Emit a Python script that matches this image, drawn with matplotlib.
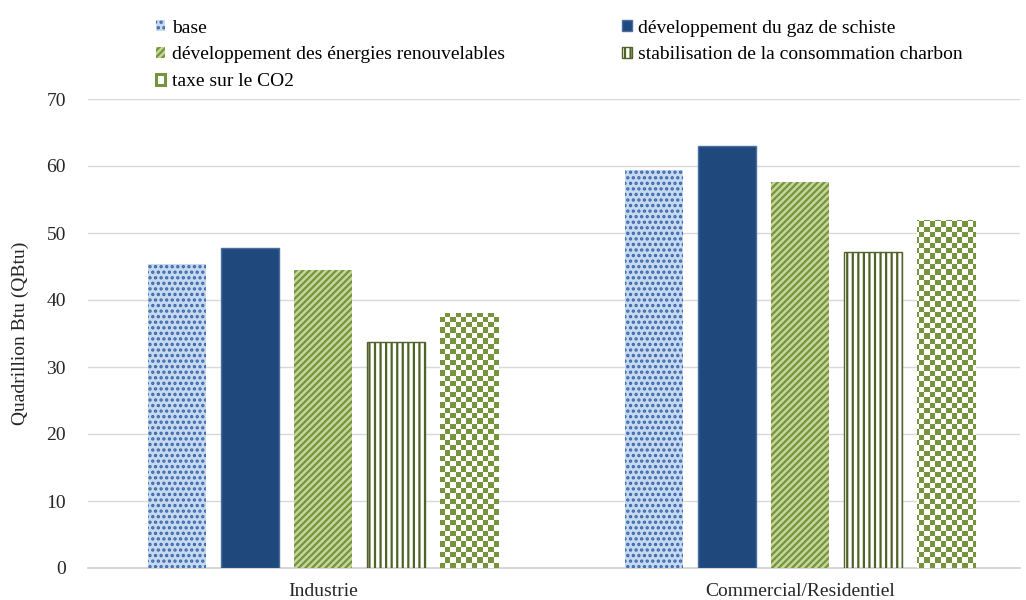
import numpy as np
import matplotlib as mpl
import matplotlib.pyplot as plt
from matplotlib.colors import ListedColormap
from matplotlib.patches import Patch

# data
categories = ['Industrie', 'Commercial/Residentiel']
scenarios = ['base',
             'développement du gaz de schiste',
             'développement des énergies renouvelables',
             'stabilisation de la consommation charbon',
             'taxe sur le CO2']
base = [45.4, 59.4]
gaz_schiste = [47.7, 63.0]
renouvelables = [44.5, 57.6]
charbon = [33.8, 47.2]
taxe_co2 = [38.1, 51.9]
yticks = [0, 10, 20, 30, 40, 50, 60, 70]

plt.rcParams['font.family'] = ['Liberation Serif', 'DejaVu Serif']
plt.rcParams['font.size'] = 14
plt.rcParams['hatch.linewidth'] = 1.6

fig = plt.figure(figsize=(10.26, 6), dpi=100)
ax = fig.add_axes([88 / 1026, 32 / 600, 932 / 1026, 469 / 600])

x = np.arange(len(categories))
step = 0.1532
width = 0.1217

# (values, face, hatch colour, hatch)
styles = [
    (base, '#c6d9f1', '#3a68a8', '...'),
    (gaz_schiste, '#1f497d', '#4a6e9e', None),
    (renouvelables, '#c3d69b', '#77933c', '/////'),
    (charbon, 'white', '#4f6228', '|||'),
    (taxe_co2, 'white', '#77933c', None),
]

containers = []
for i, (vals, face, hcol, hatch) in enumerate(styles):
    bars = ax.bar(x + (i - 2) * step, vals, width, color=face, edgecolor=hcol,
                  hatch=hatch, linewidth=1.0 if i in (1, 3) else 0, zorder=3,
                  label=scenarios[i])
    containers.append(bars)

# checkerboard texture for the CO2 tax bars
ax.set_xlim(-0.493, 1.462)
ax.set_ylim(0, 70)
sq = 5.3
ncols = int(ax.bbox.width / sq)
nrows = int(ax.bbox.height / sq)
board = (np.indices((nrows, ncols)).sum(axis=0) % 2)
cmap = ListedColormap(['white', '#77933c'])
for patch in containers[4]:
    im = ax.imshow(board, cmap=cmap, extent=(0, 1, 0, 1), transform=ax.transAxes,
                   aspect='auto', interpolation='nearest', zorder=3.5)
    im.set_clip_path(patch)
ax.set_xlim(-0.493, 1.462)
ax.set_ylim(0, 70)

ax.set_yticks(yticks)
ax.set_xticks(x)
ax.set_xticklabels(categories)
ax.tick_params(length=0, labelsize=14, colors='#262626')
ax.tick_params(axis='y', pad=16)
ax.tick_params(axis='x', pad=11)
ax.set_ylabel('Quadrillion Btu (QBtu)', fontsize=14, color='#262626', labelpad=12)
ax.grid(axis='y', color='#d9d9d9', linewidth=1)
ax.set_axisbelow(True)
for s in ['left', 'top', 'right']:
    ax.spines[s].set_visible(False)
ax.spines['bottom'].set_color('#d0d0d0')
ax.spines['bottom'].set_linewidth(1.2)

# legend, filled row by row in two columns
co2_handle = Patch(facecolor='white', edgecolor='#77933c', linewidth=2.2)
handles = [containers[0], containers[2], co2_handle, containers[1], containers[3]]
labels = [scenarios[k] for k in [0, 2, 4, 1, 3]]
fig.legend(handles, labels, loc='upper left', bbox_to_anchor=(146 / 1026, 1 - 10 / 600),
           ncol=2, frameon=False, fontsize=14, handlelength=0.5, handleheight=0.5,
           handletextpad=0.35, columnspacing=6.0, labelspacing=0.5, borderpad=0,
           labelcolor='black')

fig.savefig('out.png', dpi=100)
